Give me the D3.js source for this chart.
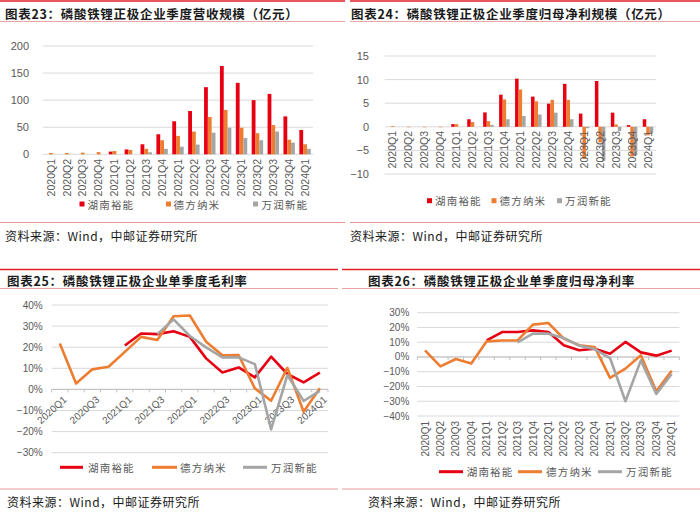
<!DOCTYPE html>
<meta charset="utf-8" />
<script src="https://d3js.org/d3.v7.min.js"></script>
<body style="margin: 0; background-color: #ffffff">
  <div id="chart"></div>
  <script>
    // quarters shared by all four panels
    var quarters = [
      "2020Q1", "2020Q2", "2020Q3", "2020Q4",
      "2021Q1", "2021Q2", "2021Q3", "2021Q4",
      "2022Q1", "2022Q2", "2022Q3", "2022Q4",
      "2023Q1", "2023Q2", "2023Q3", "2023Q4",
      "2024Q1"
    ];
    var companies = ["湖南裕能", "德方纳米", "万润新能"];

    // 图表23 营收 (亿元)
    var revHunan = [null, null, null, null, 5, 9, 18.5, 37, 61, 80, 124, 163, 132, 100, 111.6, 70, 45];
    var revDefang = [2.4, 2.4, 3, 4, 6, 8, 10, 26, 34, 42, 69, 82, 49, 39, 54, 27, 18.5];
    var revWanrun = [null, null, null, null, null, null, 3.7, 10, 14, 18, 40, 49, 30, 26, 42, 21.5, 10];
    var revTicks = [0, 50, 100, 150, 200];

    // 图表24 归母净利 (亿元)
    var profitHunan = [null, null, null, null, 0.57, 1.6, 3.05, 6.8, 10.2, 6.4, 4.9, 9.1, 2.8, 9.7, 3.0, 0.36, 1.6];
    var profitDefang = [0.15, -0.1, -0.1, -0.1, 0.55, 1.0, 1.2, 5.8, 7.9, 5.4, 5.7, 5.7, -6.8, -3.3, 0.5, -6.3, -1.8];
    var profitWanrun = [null, null, null, null, null, null, 0.4, 1.6, 2.3, 2.6, 3.0, 1.6, -0.3, -7.2, -0.9, -6, -1.3];
    var profitTicks = [-10, -5, 0, 5, 10, 15];

    // 图表25 毛利率 (%)
    var gmHunan = [null, null, null, null, 20.8, 26.5, 26.2, 27.6, 24.9, 14.7, 8, 10.4, 5.7, 15.5, 7.3, 3.3, 7.9];
    var gmDefang = [21.8, 2.8, 9.5, 10.7, 17.8, 24.9, 23.4, 34.7, 35, 22.6, 16.2, 16.3, 0.5, -5.4, 10.2, -10.6, 0.5];
    var gmWanrun = [null, null, null, null, null, null, 26.2, 33.2, 25.3, 19.9, 15.2, 15.2, 12, -19, 6.8, -5.5, -0.7];
    var gmTicks = [-30, -20, -10, 0, 10, 20, 30, 40];

    // 图表26 归母净利率 (%)
    var nmHunan = [null, null, null, null, 11.2, 16.9, 16.9, 18, 16.9, 7.9, 4.5, 5.6, 2.2, 10.2, 3.1, 0.9, 4.3];
    var nmDefang = [4.5, -6.4, -1.4, -4.5, 10.6, 11.2, 11.2, 21.9, 23, 12.4, 7.9, 6.8, -14.2, -7.9, 1.1, -23.3, -9.3];
    var nmWanrun = [null, null, null, null, null, null, 9.9, 15.8, 15.8, 12.9, 7.7, 5.4, -0.7, -30, -2.3, -25, -11.5];
    var nmTicks = [-40, -30, -20, -10, 0, 10, 20, 30];

    var colors = ["#e60012", "#ed7d31", "#a5a5a5"];
    var cjk = "'Noto Sans CJK SC', 'Noto Sans', sans-serif";
    var latin = "'Liberation Sans', Arial, sans-serif";
    var tickColor = "#595959";
    var gridColor = "#d9d9d9";

    var svg = d3
      .select("#chart")
      .append("svg")
      .attr("width", 700)
      .attr("height", 518);

    function minusFmt(d) {
      return d < 0 ? "\u2212" + -d : "" + d;
    }

    // red header line, title, pink rules and source note
    function frame(p) {
      svg.append("line")
        .attr("x1", p.x0).attr("x2", p.x1)
        .attr("y1", p.top).attr("y2", p.top)
        .attr("stroke", "#e0202a").attr("stroke-width", 1.6);
      svg.append("text")
        .attr("x", p.tx).attr("y", p.titleY)
        .attr("dominant-baseline", "central")
        .style("font-family", cjk).style("font-size", "12.5px")
        .style("font-weight", "bold").style("letter-spacing", "0.7px")
        .attr("fill", "#1a1a1a")
        .text(p.title);
      svg.append("line")
        .attr("x1", p.x0).attr("x2", p.x1)
        .attr("y1", p.under).attr("y2", p.under)
        .attr("stroke", "#eaa6a6").attr("stroke-width", 1);
      svg.append("line")
        .attr("x1", p.x0).attr("x2", p.x1)
        .attr("y1", p.footer).attr("y2", p.footer)
        .attr("stroke", "#e59a9a").attr("stroke-width", 1);
      svg.append("text")
        .attr("x", p.sx).attr("y", p.sourceY)
        .attr("dominant-baseline", "central")
        .style("font-family", cjk).style("font-size", "12px")
        .style("letter-spacing", "0.5px")
        .attr("fill", "#1a1a1a")
        .text("资料来源：Wind，中邮证券研究所");
    }

    function yAxis(y, ticks, x0, x1, labelX, fmt, fs) {
      var g = svg.append("g");
      g.selectAll("line.grid")
        .data(ticks)
        .enter()
        .append("line")
        .attr("x1", x0).attr("x2", x1)
        .attr("y1", function (d) { return y(d); })
        .attr("y2", function (d) { return y(d); })
        .attr("stroke", gridColor).attr("stroke-width", 1);
      g.selectAll("text")
        .data(ticks)
        .enter()
        .append("text")
        .attr("x", labelX)
        .attr("y", function (d) { return y(d); })
        .attr("text-anchor", "end")
        .attr("dominant-baseline", "central")
        .style("font-family", latin).style("font-size", fs)
        .attr("fill", tickColor)
        .text(fmt);
    }

    function vertLabels(x, labelY, fs) {
      svg.append("g")
        .selectAll("text")
        .data(quarters)
        .enter()
        .append("text")
        .attr("transform", function (d) {
          return "translate(" + (x(d) + x.bandwidth() / 2) + "," + labelY + ") rotate(-90)";
        })
        .attr("text-anchor", "end")
        .attr("dy", "0.36em")
        .style("font-family", latin).style("font-size", fs)
        .attr("fill", tickColor)
        .text(function (d) { return d; });
    }

    function legend(items, y, kind) {
      items.forEach(function (it, i) {
        if (kind == "square") {
          svg.append("rect")
            .attr("x", it.mx - 2.5).attr("y", y - 2.5)
            .attr("width", 5).attr("height", 5)
            .attr("fill", colors[i]);
        } else {
          svg.append("line")
            .attr("x1", it.mx).attr("x2", it.mx2)
            .attr("y1", y).attr("y2", y)
            .attr("stroke", colors[i]).attr("stroke-width", 3);
        }
        svg.append("text")
          .attr("x", it.tx).attr("y", y)
          .attr("dominant-baseline", "central")
          .style("font-family", cjk).style("font-size", "10.5px")
          .style("letter-spacing", "1.2px")
          .attr("fill", tickColor)
          .text(companies[i]);
      });
    }

    function barChart(p) {
      var x = d3.scaleBand().domain(quarters).range(p.xRange);
      var y = d3.scaleLinear().domain(p.yDomain).range(p.yRange);
      yAxis(y, p.ticks, p.xRange[0], p.xRange[1], p.labelX, p.fmt, "11px");
      var bw = x.bandwidth() * p.barFrac;
      p.data.forEach(function (vals, s) {
        svg.append("g")
          .selectAll("rect")
          .data(vals.map(function (v, i) { return { q: quarters[i], v: v }; })
            .filter(function (d) { return d.v != null; }))
          .enter()
          .append("rect")
          .attr("x", function (d) {
            return x(d.q) + x.bandwidth() / 2 + (s - 1.5) * bw;
          })
          .attr("y", function (d) { return y(Math.max(0, d.v)); })
          .attr("width", bw)
          .attr("height", function (d) { return Math.abs(y(d.v) - y(0)); })
          .attr("fill", colors[s]);
      });
      vertLabels(x, p.xLabelY, "10.5px");
      legend(p.legend, p.legendY, "square");
    }

    function lineChart(p) {
      var x = d3.scaleBand().domain(quarters).range(p.xRange);
      var y = d3.scaleLinear().domain(p.yDomain).range(p.yRange);
      yAxis(y, p.ticks, p.xRange[0], p.xRange[1], p.labelX, function (d) {
        return minusFmt(d) + "%";
      }, "10px");
      // zero axis with small ticks between categories
      svg.append("line")
        .attr("x1", p.xRange[0]).attr("x2", p.xRange[1])
        .attr("y1", y(0)).attr("y2", y(0))
        .attr("stroke", "#bfbfbf");
      svg.append("g")
        .selectAll("line")
        .data(d3.range(quarters.length + 1))
        .enter()
        .append("line")
        .attr("x1", function (i) { return p.xRange[0] + i * x.step(); })
        .attr("x2", function (i) { return p.xRange[0] + i * x.step(); })
        .attr("y1", y(0)).attr("y2", y(0) + 3)
        .attr("stroke", "#bfbfbf");

      if (p.slanted) {
        svg.append("g")
          .selectAll("text")
          .data(quarters.filter(function (d, i) { return i % 2 == 0; }))
          .enter()
          .append("text")
          .attr("transform", function (d) {
            return "translate(" + (x(d) + x.bandwidth() / 2 + 3) + "," + (y(0) + 6) + ") rotate(-42)";
          })
          .attr("text-anchor", "end")
          .attr("dy", "0.7em")
          .style("font-family", latin).style("font-size", "10px")
          .attr("fill", tickColor)
          .text(function (d) { return d; });
      } else {
        vertLabels(x, p.xLabelY, "10px");
      }

      var line = d3.line()
        .defined(function (d) { return d.v != null; })
        .x(function (d) { return x(d.q) + x.bandwidth() / 2; })
        .y(function (d) { return y(d.v); });
      p.data.forEach(function (vals, s) {
        svg.append("path")
          .datum(vals.map(function (v, i) { return { q: quarters[i], v: v }; }))
          .attr("d", line)
          .attr("fill", "none")
          .attr("stroke", colors[s])
          .attr("stroke-width", 2.6)
          .attr("stroke-linejoin", "round");
      });
      legend(p.legend, p.legendY, "line");
    }

    frame({ x0: 0, x1: 345, top: 1, tx: 5, titleY: 13, under: 21.5, footer: 222.5, sx: 5, sourceY: 235,
      title: "图表23：磷酸铁锂正极企业季度营收规模（亿元）" });
    frame({ x0: 350, x1: 700, top: 1, tx: 351, titleY: 13, under: 21.5, footer: 222.5, sx: 350, sourceY: 235,
      title: "图表24：磷酸铁锂正极企业季度归母净利规模（亿元）" });
    frame({ x0: 0, x1: 338, top: 269.5, tx: 7, titleY: 280, under: 288.5, footer: 489, sx: 7, sourceY: 501,
      title: "图表25：磷酸铁锂正极企业单季度毛利率" });
    frame({ x0: 342, x1: 700, top: 269.5, tx: 368, titleY: 280, under: 288.5, footer: 489, sx: 368, sourceY: 501,
      title: "图表26：磷酸铁锂正极企业单季度归母净利率" });

    barChart({
      xRange: [43, 313], yDomain: [0, 200], yRange: [154.3, 46], ticks: revTicks,
      labelX: 29, fmt: function (d) { return d; }, barFrac: 0.24, xLabelY: 159,
      data: [revHunan, revDefang, revWanrun], legendY: 204,
      legend: [{ mx: 82, tx: 87.5 }, { mx: 168.5, tx: 173.5 }, { mx: 255.5, tx: 261.5 }]
    });
    barChart({
      xRange: [384.7, 656], yDomain: [-10, 15], yRange: [174, 56], ticks: profitTicks,
      labelX: 369, fmt: minusFmt, barFrac: 0.22, xLabelY: 131,
      data: [profitHunan, profitDefang, profitWanrun], legendY: 200.7,
      legend: [{ mx: 429.5, tx: 435 }, { mx: 494, tx: 499.5 }, { mx: 559.5, tx: 565 }]
    });
    lineChart({
      xRange: [51.7, 328], yDomain: [-30, 40], yRange: [452.7, 305], ticks: gmTicks,
      labelX: 42.7, slanted: true,
      data: [gmHunan, gmDefang, gmWanrun], legendY: 467.3,
      legend: [{ mx: 60, mx2: 83, tx: 88 }, { mx: 152, mx2: 177, tx: 180 }, { mx: 243, mx2: 267, tx: 271 }]
    });
    lineChart({
      xRange: [417.3, 679.4], yDomain: [-40, 30], yRange: [416, 312.7], ticks: nmTicks,
      labelX: 409.3, slanted: false, xLabelY: 421,
      data: [nmHunan, nmDefang, nmWanrun], legendY: 471.7,
      legend: [{ mx: 439, mx2: 463, tx: 466.7 }, { mx: 518, mx2: 542, tx: 546 }, { mx: 598, mx2: 622, tx: 626 }]
    });
  </script>
</body>
